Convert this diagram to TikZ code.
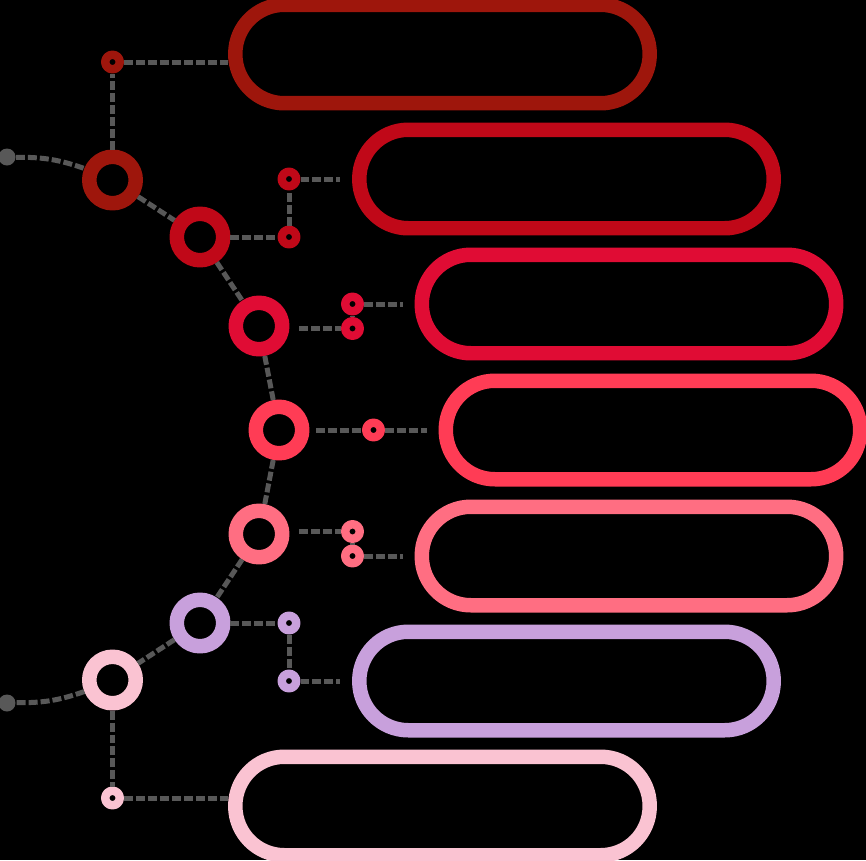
\documentclass[tikz,border=0pt]{standalone}
\usetikzlibrary{calc}
\definecolor{tone1}{RGB}{158,22,12}
\definecolor{tone2}{RGB}{192,8,24}
\definecolor{tone3}{RGB}{224,12,52}
\definecolor{tone4}{RGB}{255,60,85}
\definecolor{tone5}{RGB}{255,110,130}
\definecolor{tone6}{RGB}{200,160,220}
\definecolor{tone7}{RGB}{250,195,210}
\definecolor{linkgray}{RGB}{88,88,88}
\begin{document}
\begin{tikzpicture}[x=0.02cm,y=-0.02cm,line join=round,
  ring/.style={circle,draw=#1,line width=0.29cm,minimum size=0.93cm,inner sep=0pt},
  dotring/.style={circle,draw=#1,line width=0.17cm,minimum size=0.29cm,inner sep=0pt},
  pill/.style={rectangle,draw=#1,line width=0.29cm,rounded corners=0.98cm,
    minimum width=8.29cm,minimum height=1.97cm,inner sep=0pt},
  enddot/.style={circle,fill=linkgray,minimum size=0.34cm,inner sep=0pt},
  link/.style={draw=linkgray,line width=0.1cm,line cap=butt,dash pattern=on 0.18cm off 0.06cm}]
  \fill[black] (0,0) rectangle (866,860);
  \useasboundingbox (0,0) rectangle (866,860);
  \node[pill=tone1] (P1) at (442.5,54) {};
  \node[pill=tone2] (P2) at (566.5,179) {};
  \node[pill=tone3] (P3) at (629,304) {};
  \node[pill=tone4] (P4) at (653,430) {};
  \node[pill=tone5] (P5) at (629,556) {};
  \node[pill=tone6] (P6) at (566.5,681) {};
  \node[pill=tone7] (P7) at (442.5,806) {};
  \node[ring=tone1] (C1) at (112.5,180) {};
  \node[ring=tone2] (C2) at (200,237) {};
  \node[ring=tone3] (C3) at (259,326) {};
  \node[ring=tone4] (C4) at (279,430) {};
  \node[ring=tone5] (C5) at (259,534) {};
  \node[ring=tone6] (C6) at (200,623) {};
  \node[ring=tone7] (C7) at (112.5,680) {};
  \node[enddot] (E1) at (7,157) {};
  \node[enddot] (E2) at (7,703) {};
  \node[dotring=tone1] (S1) at (112.5,62) {};
  \node[dotring=tone2] (S2a) at (289,179) {};
  \node[dotring=tone2] (S2b) at (289,237) {};
  \node[dotring=tone3] (S3a) at (352.5,304) {};
  \node[dotring=tone3] (S3b) at (352.5,328.5) {};
  \node[dotring=tone4] (S4) at (373.5,430) {};
  \node[dotring=tone5] (S5a) at (352.5,531.5) {};
  \node[dotring=tone5] (S5b) at (352.5,556) {};
  \node[dotring=tone6] (S6a) at (289,623) {};
  \node[dotring=tone6] (S6b) at (289,681) {};
  \node[dotring=tone7] (S7) at (112.5,798) {};
  \draw[link] (E1) to[bend left=10] (C1);
  \foreach \a/\b in {C1/C2,C2/C3,C3/C4,C4/C5,C5/C6,C6/C7}
    \draw[link] (\a) -- (\b);
  \draw[link] (C7) to[bend left=10] (E2);
  \draw[link] (C1) -- (S1);
  \draw[link] (S1) -- (S1 -| P1.west);
  \draw[link] (C2) -- (S2b);
  \draw[link] (S2b) -- (S2a);
  \draw[link,shorten >=0.24cm] (S2a) -- (P2);
  \draw[link,shorten <=0.2cm] (S3b -| C3.east) -- (S3b);
  \draw[link] (S3b) -- (S3a);
  \draw[link,shorten >=0.24cm] (S3a) -- (P3);
  \draw[link,shorten <=0.14cm] (C4) -- (S4);
  \draw[link,shorten >=0.24cm] (S4) -- (P4);
  \draw[link,shorten <=0.2cm] (S5a -| C5.east) -- (S5a);
  \draw[link] (S5a) -- (S5b);
  \draw[link,shorten >=0.24cm] (S5b) -- (P5);
  \draw[link] (C6) -- (S6a);
  \draw[link] (S6a) -- (S6b);
  \draw[link,shorten >=0.24cm] (S6b) -- (P6);
  \draw[link] (C7) -- (S7);
  \draw[link] (S7) -- (S7 -| P7.west);
\end{tikzpicture}
\end{document}
